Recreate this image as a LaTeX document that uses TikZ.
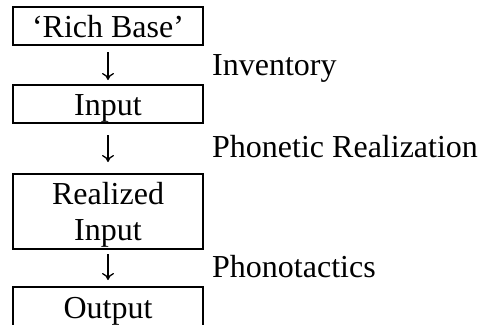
\documentclass[tikz,border=0pt]{standalone}
\usepackage{fontspec}
\setmainfont{Liberation Serif}
\usetikzlibrary{arrows.meta}
\tikzset{stage/.style={
  draw,
  line width=2pt,
  minimum width=190pt,
  inner sep=0pt,
  anchor=north,
  align=center,
  text height=29pt,
  text depth=7pt,
  font=\fontsize{32}{36}\selectfont
  },
  step arrow/.style={
  line width=1.3pt,
  -{To[length=7pt,width=12pt,line width=1.3pt]}
  },
  rule label/.style={anchor=base west,inner sep=0pt,font=\fontsize{32}{36}\selectfont}
}
\begin{document}
\begin{tikzpicture}[x=1pt,y=-1pt]
    \useasboundingbox (0,0) rectangle (478,324);

    \node[stage,minimum height=38pt] (base) at (108,6) {`Rich Base'};
    \node[stage,minimum height=38pt] (input) at (108,84) {Input};
    \node[stage,minimum height=75pt,text height=65pt] (realized) at (108,173) {Realized\\Input};
    \node[stage,minimum height=40pt] (output) at (108,286) {Output};

    \node[rule label] (inv) at (212,75) {Inventory};
    \node[rule label] (phon) at (212,157) {Phonetic Realization};
    \node[rule label] (tact) at (212,277) {Phonotactics};

    \draw[step arrow,shorten <=6pt,shorten >=4pt] (base) -- (input);
    \draw[step arrow,shorten <=11pt,shorten >=11pt] (input) -- (realized);
    \draw[step arrow,shorten <=4pt,shorten >=6pt] (realized) -- (output);
\end{tikzpicture}
\end{document}
